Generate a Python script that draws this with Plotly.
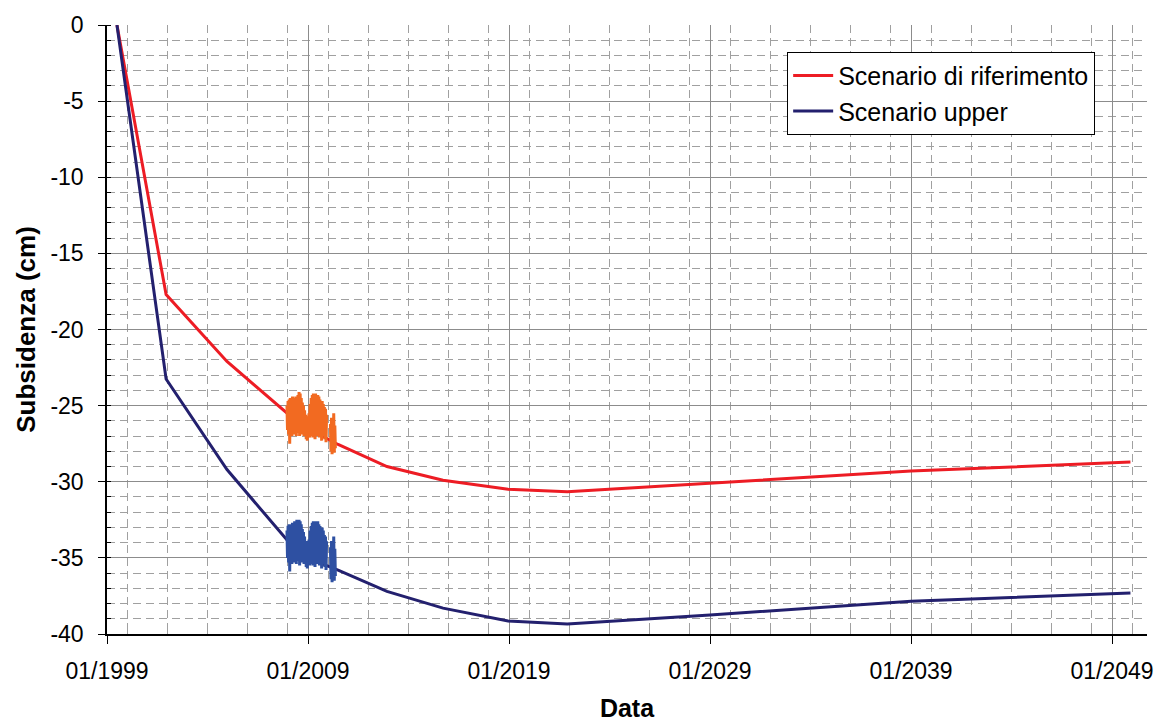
import pandas as pd
import plotly.graph_objects as go

# Model vertices (dates) shared by both scenarios
model_dates = ["1999-07-01", "2001-12-10", "2004-12-20", "2008-08-01", "2010-07-01",
               "2012-12-05", "2015-09-20", "2018-12-15", "2021-11-25", "2029-01-01",
               "2039-01-01", "2049-12-01"]
ref_values = [0.0, -17.7, -22.1, -26.2, -27.55, -29.0, -29.9, -30.5, -30.65, -30.1,
              -29.3, -28.7]
upper_values = [0.0, -23.25, -29.2, -34.8, -35.8, -37.2, -38.3, -39.15, -39.35, -38.75,
                -37.85, -37.3]

# Measured subsidence, sampled every 10 days from mid-December 2007
meas_start = "2007-12-15"
meas_ref = [
    -25.0, -26.6, -24.7, -26.9, -24.6, -27.5, -24.5, -26.8, -24.6, -27.0,
    -24.4, -26.7, -24.5, -26.9, -24.6, -26.5, -24.4, -27.0, -24.5, -26.8,
    -24.3, -26.6, -24.1, -27.0, -24.2, -26.7, -24.5, -26.9, -24.8, -26.6,
    -25.0, -27.0, -25.3, -26.8, -25.6,
    -27.2, -25.7, -27.3, -25.8, -27.0, -25.5, -27.1,
    -24.9, -27.0, -24.5, -26.8, -24.3, -27.1, -24.2, -26.9, -24.3, -27.2,
    -24.2, -26.8, -24.4, -27.0, -24.3, -26.7, -24.4, -27.1, -24.6, -26.9,
    -24.8, -27.3, -24.7, -26.8, -24.9, -27.0,
    -25.1, -27.2, -25.2, -27.4, -25.6,
    None, None, None, None, None, None,
    -26.2, -28.0, -25.8, -28.2, -25.9, -27.9, -25.5, -28.1, -26.3, -27.8,
]
meas_upper = [
    -33.2, -35.0, -32.9, -35.3, -32.8, -35.9, -32.9, -35.2, -32.8, -35.4,
    -32.7, -35.1, -32.8, -35.3, -32.6, -34.9, -32.6, -35.4, -32.5, -35.2,
    -32.6, -35.0, -32.5, -35.5, -32.6, -35.1, -32.8, -35.3, -33.1, -35.0,
    -33.3, -35.4, -33.6, -35.2, -33.9,
    -35.6, -33.9, -35.7, -34.0, -35.4, -33.8, -35.5,
    -33.2, -35.4, -32.9, -35.2, -32.7, -35.5, -32.6, -35.3, -32.6, -35.6,
    -32.6, -35.2, -32.7, -35.4, -32.6, -35.1, -32.8, -35.5, -32.9, -35.3,
    -33.1, -35.7, -33.0, -35.2, -33.2, -35.4,
    -33.5, -35.6, -33.6, -35.8, -33.9,
    None, None, None, None, None, None,
    -34.3, -36.4, -33.9, -36.6, -34.0, -36.3, -33.6, -36.5, -34.4, -36.2,
]
meas_dates = pd.date_range(meas_start, periods=len(meas_ref), freq="10D")

y_ticks = [0, -5, -10, -15, -20, -25, -30, -35, -40]
y_tick_text = [str(v) for v in y_ticks]

FONT = "Liberation Sans, Arial, sans-serif"

fig = go.Figure()
fig.add_trace(go.Scatter(x=model_dates, y=ref_values, mode="lines",
                         name="Scenario di riferimento",
                         line=dict(color="#ED1C24", width=3)))
fig.add_trace(go.Scatter(x=model_dates, y=upper_values, mode="lines",
                         name="Scenario upper",
                         line=dict(color="#23206E", width=3)))
fig.add_trace(go.Scatter(x=meas_dates, y=meas_ref, mode="lines", showlegend=False,
                         connectgaps=False,
                         line=dict(color="#F26A21", width=3)))
fig.add_trace(go.Scatter(x=meas_dates, y=meas_upper, mode="lines", showlegend=False,
                         connectgaps=False,
                         line=dict(color="#2E50A2", width=3)))

fig.update_layout(
    width=1164, height=722,
    margin=dict(l=107, r=17, t=25, b=88, autoexpand=False),
    paper_bgcolor="white", plot_bgcolor="white",
    font=dict(family=FONT, color="black", size=22),
    legend=dict(x=0.654, y=0.956, xanchor="left", yanchor="top",
                bgcolor="white", bordercolor="black", borderwidth=1,
                font=dict(size=25), tracegroupgap=0, itemwidth=40),
    showlegend=True,
)

fig.update_xaxes(
    type="date", automargin=False,
    range=["1999-01-01", "2050-09-28"],
    tick0="1999-01-01", dtick="M120", tickformat="%m/%Y",
    showline=True, linecolor="black", linewidth=1.5,
    ticks="outside", ticklen=8, tickcolor="black", tickwidth=1.2,
    showgrid=True, gridcolor="#8c8c8c", gridwidth=1,
    minor=dict(dtick="M24", showgrid=True, gridcolor="#a0a0a0", gridwidth=1,
               griddash="8px,5px", ticks="inside", ticklen=4, tickcolor="#a0a0a0"),
    tickfont=dict(size=23),
    ticklabelstandoff=8,
    zeroline=False,
    title=dict(text="<b>Data</b>", font=dict(size=25), standoff=18),
)

fig.update_yaxes(
    automargin=False,
    range=[-40, 0],
    tickmode="array", tickvals=y_ticks, ticktext=y_tick_text,
    showline=True, linecolor="black", linewidth=1.5,
    ticks="outside", ticklen=7, tickcolor="black", tickwidth=1.2,
    showgrid=True, gridcolor="#8c8c8c", gridwidth=1,
    minor=dict(dtick=1, tick0=0, showgrid=True, gridcolor="#a0a0a0", gridwidth=1,
               griddash="8px,5px", ticks="inside", ticklen=4, tickcolor="black"),
    tickfont=dict(size=23),
    ticklabelstandoff=10,
    zeroline=False,
    title=dict(text="<b>Subsidenza (cm)</b>", font=dict(size=26), standoff=7),
)

fig.write_html("out.html")
